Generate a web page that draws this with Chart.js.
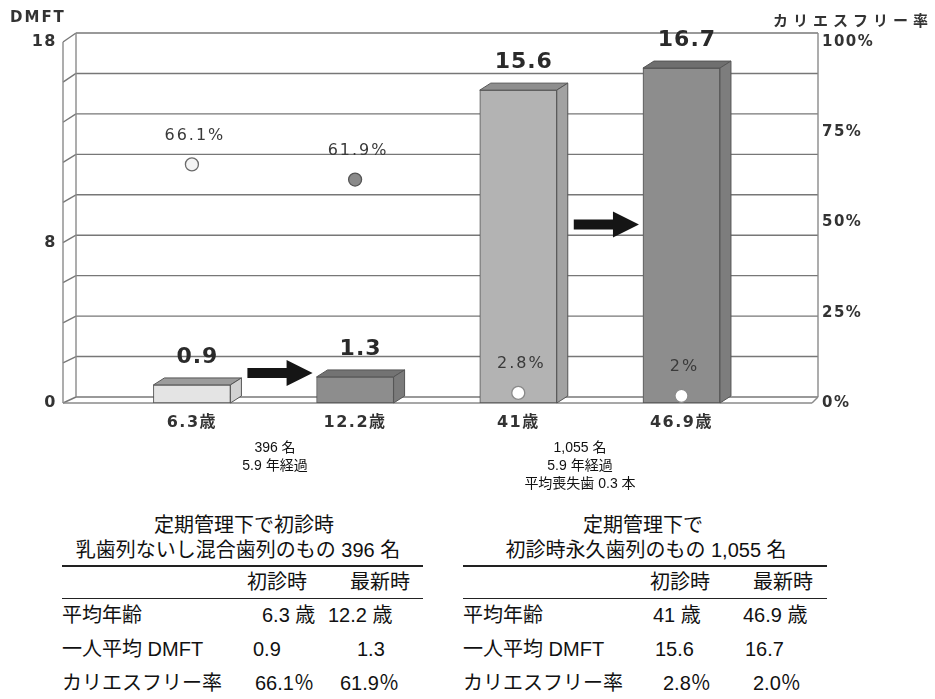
<!DOCTYPE html>
<html lang="ja">
<head>
<meta charset="utf-8">
<title>DMFT とカリエスフリー率の推移</title>
<script src="https://cdn.jsdelivr.net/npm/chart.js@4"></script>
<style>
  html, body { margin: 0; padding: 0; background: #fff; }
  #wrap { position: relative; width: 935px; height: 699px; overflow: hidden;
          font-family: "Liberation Sans", "Noto Sans CJK JP", sans-serif; color: #111; }
  #chart { position: absolute; left: 0; top: 0; }
  .t { position: absolute; white-space: nowrap; font-size: 20px; line-height: 24px; height: 24px; }
  .c { transform: translateX(-50%); }
  .note { position: absolute; white-space: nowrap; font-size: 14px; line-height: 18px; transform: translateX(-50%); }
  .rule { position: absolute; background: #222; }
</style>
</head>
<body>
<div id="wrap">
  <canvas id="chart" width="935" height="500"></canvas>
</div>
<script>
// ---- data ----
const categories = ['6.3歳', '12.2歳', '41歳', '46.9歳'];
const ages = [6.3, 12.2, 41, 46.9];
const dmft = [0.9, 1.3, 15.6, 16.7];
const cariesFree = [66.1, 61.9, 2.8, 2.0];
const dmftTickLabels = [0, 8, 18];
const rateTickStep = 25;
const groupNotes = [
  ['396 名', '5.9 年経過'],
  ['1,055 名', '5.9 年経過', '平均喪失歯 0.3 本']
];
const groupTitles = [
  ['定期管理下で初診時', '乳歯列ないし混合歯列のもの 396 名'],
  ['定期管理下で', '初診時永久歯列のもの 1,055 名']
];
const rowLabels = ['平均年齢', '一人平均 DMFT', 'カリエスフリー率'];
const colLabels = ['初診時', '最新時'];

// ---- styling ----
const FONT = "'DejaVu Sans', 'Noto Sans CJK JP', sans-serif";
const DEPTH = { dx: 11, dy: -7 };
const frontColors = ['#e4e4e4', '#8d8d8d', '#b3b3b3', '#8d8d8d'];
const topColors   = ['#9c9c9c', '#737373', '#8e8e8e', '#6f6f6f'];
const sideColors  = ['#d2d2d2', '#7b7b7b', '#a2a2a2', '#7d7d7d'];
const pointFill   = ['#f4f4f4', '#8a8a8a', '#ffffff', '#ffffff'];
const pointEdge   = ['#6a6a6a', '#555555', '#8a8a8a', '#8a8a8a'];
const arrowPairs  = [[0, 1, 1.5], [2, 3, 8.9]];   // from bar, to bar, height in DMFT units

const fmt = v => String(v);

function seg(ctx, x1, y1, x2, y2) {
  ctx.beginPath(); ctx.moveTo(x1, y1); ctx.lineTo(x2, y2); ctx.stroke();
}

// box frame, 3D bar faces, arrows and text annotations
const box3d = {
  id: 'box3d',
  beforeDraw(chart) { chart.ctx.letterSpacing = '1.5px'; },
  afterDraw(chart) { chart.ctx.letterSpacing = '0px'; },
  beforeDatasetsDraw(chart) {
    const { ctx, chartArea: a, scales: { y } } = chart;
    const back = v => y.getPixelForValue(v) - (6 + 3 * v / y.max);
    const xl = a.left, xbl = a.left + 13, xbr = a.right + 6;
    const y0 = y.getPixelForValue(0);
    ctx.save();
    ctx.strokeStyle = '#777';
    ctx.lineWidth = 1.4;
    y.ticks.forEach(t => {
      const yb = back(t.value);
      seg(ctx, xbl, yb, xbr, yb);
      seg(ctx, xl, y.getPixelForValue(t.value), xbl, yb);
    });
    ctx.strokeStyle = '#8a8a8a';
    seg(ctx, xbl, back(y.max), xbl, back(0));
    seg(ctx, xbr, back(y.max), xbr, back(0));
    seg(ctx, xl, y.getPixelForValue(y.max), xl, y0);
    seg(ctx, xl, y0, a.right, y0);
    seg(ctx, a.right, y0, xbr, back(0));
    ctx.restore();
  },
  afterDatasetDraw(chart, args) {
    if (args.index !== 0) return;
    const { ctx } = chart;
    const { dx, dy } = DEPTH;
    ctx.save();
    ctx.strokeStyle = '#555';
    ctx.lineWidth = 1;
    args.meta.data.forEach((bar, i) => {
      const l = bar.x - bar.width / 2, r = bar.x + bar.width / 2;
      const t = bar.y, b = bar.base;
      ctx.fillStyle = topColors[i];
      ctx.beginPath();
      ctx.moveTo(l, t); ctx.lineTo(l + dx, t + dy); ctx.lineTo(r + dx, t + dy); ctx.lineTo(r, t);
      ctx.closePath(); ctx.fill(); ctx.stroke();
      ctx.fillStyle = sideColors[i];
      ctx.beginPath();
      ctx.moveTo(r, t); ctx.lineTo(r + dx, t + dy); ctx.lineTo(r + dx, b + dy); ctx.lineTo(r, b);
      ctx.closePath(); ctx.fill(); ctx.stroke();
    });
    ctx.restore();
  },
  afterDatasetsDraw(chart) {
    const { ctx, scales: { y } } = chart;
    const bars = chart.getDatasetMeta(0).data;
    const pts = chart.getDatasetMeta(1).data;
    ctx.save();

    // arrows between the paired bars
    ctx.fillStyle = '#151515';
    arrowPairs.forEach(([from, to, level]) => {
      const x1 = bars[from].x + bars[from].width / 2 + DEPTH.dx + 6;
      const x2 = bars[to].x - bars[to].width / 2 - 4;
      const yc = y.getPixelForValue(level);
      const head = 26;
      ctx.beginPath();
      ctx.moveTo(x1, yc - 5); ctx.lineTo(x2 - head, yc - 5); ctx.lineTo(x2 - head, yc - 13);
      ctx.lineTo(x2, yc); ctx.lineTo(x2 - head, yc + 13); ctx.lineTo(x2 - head, yc + 5);
      ctx.lineTo(x1, yc + 5); ctx.closePath(); ctx.fill();
    });

    // DMFT value above each bar
    ctx.textAlign = 'center';
    ctx.textBaseline = 'middle';
    ctx.letterSpacing = '1px';
    ctx.fillStyle = '#2a2a2a';
    ctx.font = 'bold 22px ' + FONT;
    bars.forEach((bar, i) => ctx.fillText(fmt(dmft[i]), bar.x + DEPTH.dx / 2, bar.y - 28));

    // caries-free rate above each point
    ctx.fillStyle = '#3a3a3a';
    ctx.font = '16px ' + FONT;
    ctx.letterSpacing = '2px';
    pts.forEach((p, i) => ctx.fillText(fmt(cariesFree[i]) + '%', p.x + 3, p.y - 29));

    // axis titles
    ctx.fillStyle = '#333';
    ctx.textAlign = 'left';
    ctx.font = 'bold 15px ' + FONT;
    ctx.letterSpacing = '2px';
    ctx.fillText('DMFT', 10, 18);
    ctx.font = 'bold 15px ' + FONT;
    ctx.letterSpacing = '5px';
    ctx.fillText('カリエスフリー率', 773, 22);
    ctx.restore();
  }
};

new Chart(document.getElementById('chart'), {
  type: 'bar',
  data: {
    datasets: [
      {
        type: 'bar',
        data: dmft.map((v, i) => ({ x: i, y: v })),
        xAxisID: 'x', yAxisID: 'y',
        barThickness: 77,
        backgroundColor: frontColors,
        borderColor: '#555',
        borderWidth: 1,
        borderSkipped: false,
        order: 1
      },
      {
        type: 'line',
        data: cariesFree.map((v, i) => ({ x: i, y: v })),
        xAxisID: 'x', yAxisID: 'y2',
        showLine: false,
        pointRadius: 6.5,
        pointBackgroundColor: pointFill,
        pointBorderColor: pointEdge,
        pointBorderWidth: 1.3,
        order: 0
      }
    ]
  },
  options: {
    responsive: false,
    animation: false,
    devicePixelRatio: 1,
    layout: { padding: { left: 0, right: 0, top: 42, bottom: 0 } },
    plugins: { legend: { display: false }, tooltip: { enabled: false } },
    scales: {
      x: {
        type: 'linear',
        min: -0.79, max: 3.8,
        offset: false,
        grid: { display: false, drawTicks: false, offset: false },
        border: { display: false },
        afterBuildTicks: s => { s.ticks = categories.map((_, i) => ({ value: i })); },
        afterFit: s => { s.height = 97; },
        ticks: {
          autoSkip: false, maxRotation: 0, padding: 10,
          color: '#333', font: { family: FONT, size: 16, weight: 'bold' },
          callback: v => categories[v] ?? ''
        }
      },
      y: {
        position: 'left',
        min: 0, max: 18,
        grid: { display: false, drawTicks: false },
        border: { display: false },
        afterFit: s => { s.width = 63; },
        ticks: {
          stepSize: 2, padding: 6,
          color: '#333', font: { family: FONT, size: 16, weight: 'bold' },
          callback: v => dmftTickLabels.includes(v) ? String(v) : ''
        }
      },
      y2: {
        position: 'right',
        min: 0, max: 100,
        grid: { display: false, drawTicks: false },
        border: { display: false },
        afterFit: s => { s.width = 123; },
        ticks: {
          stepSize: rateTickStep, padding: 10,
          color: '#333', font: { family: FONT, size: 15, weight: 'bold' },
          callback: v => v + '%'
        }
      }
    }
  },
  plugins: [box3d]
});

// ---- notes under the chart and the summary tables ----
const wrap = document.getElementById('wrap');
function put(cls, text, x, cy, lh) {
  const d = document.createElement('div');
  d.className = cls;
  d.textContent = text;
  d.style.left = x + 'px';
  d.style.top = (cy - lh / 2) + 'px';
  wrap.appendChild(d);
}
function rule(x0, x1, y, h) {
  const d = document.createElement('div');
  d.className = 'rule';
  d.style.left = x0 + 'px';
  d.style.width = (x1 - x0) + 'px';
  d.style.top = (y - h / 2) + 'px';
  d.style.height = h + 'px';
  wrap.appendChild(d);
}

const noteCx = [275, 580];
groupNotes.forEach((lines, g) =>
  lines.forEach((s, k) => put('note', s, noteCx[g], 447 + k * 18, 18)));

const tableLayout = [
  { x0: 62, x1: 423, titleCx: [244, 238], head: [247, 350],
    cells: [[262, 328], [253, 357], [255, 340]] },
  { x0: 463, x1: 827, titleCx: [643, 646], head: [650, 753],
    cells: [[653, 743], [655, 745], [663, 753]] }
];
const rowY = [615, 649, 683];

tableLayout.forEach((L, g) => {
  const idx = [2 * g, 2 * g + 1];
  put('t c', groupTitles[g][0], L.titleCx[0], 525, 24);
  put('t c', groupTitles[g][1], L.titleCx[1], 550, 24);
  rule(L.x0, L.x1, 566, 2);
  colLabels.forEach((s, c) => put('t', s, L.head[c], 582, 24));
  rule(L.x0, L.x1, 598, 1);
  const rows = [
    idx.map(i => fmt(ages[i]) + ' 歳'),
    idx.map(i => dmft[i].toFixed(1)),
    idx.map(i => cariesFree[i].toFixed(1) + '％')
  ];
  rows.forEach((vals, r) => {
    put('t', rowLabels[r], L.x0, rowY[r], 24);
    vals.forEach((s, c) => put('t', s, L.cells[r][c], rowY[r], 24));
  });
});
</script>
</body>
</html>
